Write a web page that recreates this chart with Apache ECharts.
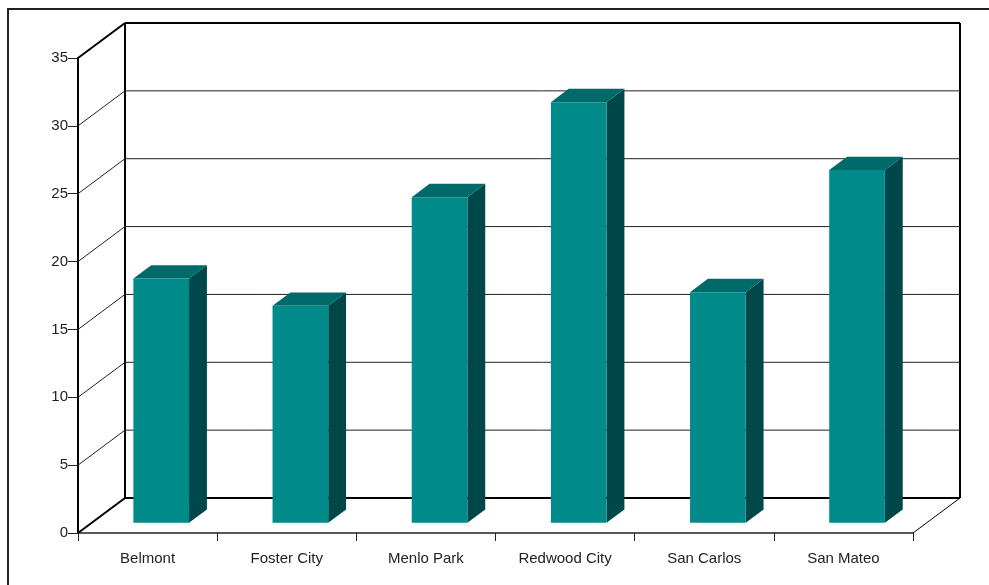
<!DOCTYPE html>
<html>
<head>
<meta charset="utf-8">
<script src="https://cdn.jsdelivr.net/npm/echarts@6/dist/echarts.min.js"></script>
<style>
html,body{margin:0;padding:0;background:#fff;}
#chart{width:989px;height:585px;}
</style>
</head>
<body>
<div id="chart"></div>
<script>
const categories = ['Belmont', 'Foster City', 'Menlo Park', 'Redwood City', 'San Carlos', 'San Mateo'];
const values = [18, 16, 24, 31, 17, 26];
const yTicks = [0, 5, 10, 15, 20, 25, 30, 35];

const WALL_DX = 47, WALL_DY = 35;       // full depth of the 3D box (px)
const BAR_POS = 0.29;                   // bar front face depth fraction
const BAR_DEPTH = 0.38;                 // bar depth fraction
const BAR_W = 0.40;                     // bar width as fraction of category
const FRONT = '#008a8a', TOP = '#006a6a', SIDE = '#004749';

const chart = echarts.init(document.getElementById('chart'), null, {renderer: 'canvas'});

function frameItem(params, api) {
  const v = api.value(1);
  const p0 = api.coord([0, v]);
  const p1 = api.coord([6, v]);
  const b0 = [p0[0] + WALL_DX, p0[1] - WALL_DY];
  const b1 = [p1[0] + WALL_DX, p1[1] - WALL_DY];
  const edge = (v === 0 || v === 35);
  const lw = edge ? 2 : 1;
  const col = edge ? '#000' : '#222';
  const children = [
    {type: 'line', shape: {x1: p0[0], y1: p0[1], x2: b0[0], y2: b0[1]}, style: {stroke: col, lineWidth: lw}},
    {type: 'line', shape: {x1: b0[0], y1: b0[1], x2: b1[0], y2: b1[1]}, style: {stroke: col, lineWidth: lw}}
  ];
  if (v === 0) {
    const t0 = api.coord([0, 35]);
    const t1 = api.coord([6, 35]);
    children.push({type: 'line', shape: {x1: b0[0], y1: b0[1], x2: t0[0] + WALL_DX, y2: t0[1] - WALL_DY}, style: {stroke: '#000', lineWidth: 2}});
    children.push({type: 'line', shape: {x1: b1[0], y1: b1[1], x2: t1[0] + WALL_DX, y2: t1[1] - WALL_DY}, style: {stroke: '#000', lineWidth: 2}});
    children.push({type: 'line', shape: {x1: p1[0], y1: p1[1], x2: b1[0], y2: b1[1]}, style: {stroke: '#000', lineWidth: 1}});
  }
  return {type: 'group', children: children};
}

function barItem(params, api) {
  const x = api.value(0), v = api.value(1);
  const base = api.coord([x, 0]);
  const top = api.coord([x, v]);
  const catW = api.size([1, 0])[0];
  const w = catW * BAR_W;
  const ox = WALL_DX * BAR_POS, oy = WALL_DY * BAR_POS;
  const dx = WALL_DX * BAR_DEPTH, dy = WALL_DY * BAR_DEPTH;
  const x0 = base[0] + ox - w / 2, x1 = x0 + w;
  const yb = base[1] - oy, yt = top[1] - oy;
  return {
    type: 'group',
    children: [
      {type: 'polygon', shape: {points: [[x1, yb], [x1, yt], [x1 + dx, yt - dy], [x1 + dx, yb - dy]]}, style: {fill: SIDE}},
      {type: 'polygon', shape: {points: [[x0, yt], [x1, yt], [x1 + dx, yt - dy], [x0 + dx, yt - dy]]}, style: {fill: TOP}},
      {type: 'rect', shape: {x: x0, y: yt, width: w, height: yb - yt}, style: {fill: FRONT}}
    ]
  };
}

const option = {
  animation: false,
  backgroundColor: '#fff',
  textStyle: {fontFamily: 'Liberation Sans, Arial, sans-serif'},
  graphic: [{
    type: 'rect', shape: {x: 8, y: 9, width: 1000, height: 600},
    style: {fill: 'none', stroke: '#222', lineWidth: 2}, z: 0
  }],
  grid: {left: 78, right: 76, top: 58, bottom: 52, containLabel: false},
  xAxis: [{
    type: 'category', data: categories, boundaryGap: true,
    axisLine: {show: true, lineStyle: {color: '#222', width: 1.5}},
    axisTick: {show: true, length: 8, inside: false, alignWithLabel: false, lineStyle: {color: '#222', width: 1}},
    axisLabel: {fontSize: 15, color: '#222', margin: 18, fontFamily: 'Liberation Sans, Arial, sans-serif'},
    splitLine: {show: false}
  }, {
    type: 'value', min: 0, max: 6, show: false
  }],
  yAxis: {
    type: 'value', min: 0, max: 35, interval: 5,
    axisLine: {show: true, lineStyle: {color: '#000', width: 2}},
    axisTick: {show: true, length: 10, lineStyle: {color: '#222', width: 1}},
    axisLabel: {fontSize: 15, color: '#222', margin: 10, fontFamily: 'Liberation Sans, Arial, sans-serif'},
    splitLine: {show: false}
  },
  series: [{
    type: 'custom', xAxisIndex: 1, yAxisIndex: 0, z: 1,
    renderItem: frameItem,
    data: yTicks.map(v => [0, v]),
    silent: true
  }, {
    type: 'custom', xAxisIndex: 1, yAxisIndex: 0, z: 3,
    renderItem: barItem,
    data: values.map((v, i) => [i + 0.5, v])
  }]
};
chart.setOption(option);
</script>
</body>
</html>
